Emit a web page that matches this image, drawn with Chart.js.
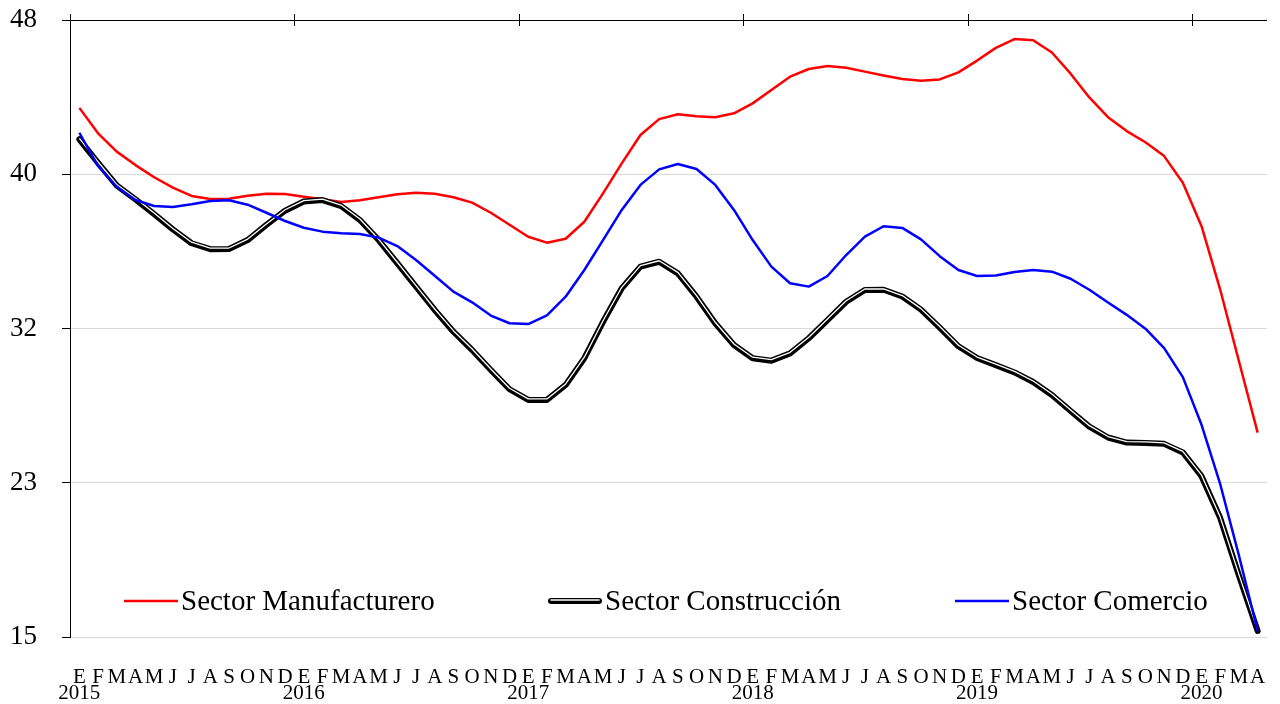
<!DOCTYPE html>
<html>
<head>
<meta charset="utf-8">
<script src="https://cdn.jsdelivr.net/npm/chart.js@4.4.1/dist/chart.umd.min.js"></script>
<style>
  html, body { margin: 0; padding: 0; background: #fff; }
  canvas { display: block; }
</style>
</head>
<body>
<canvas id="chart" width="1280" height="704"></canvas>
<script>
const months = ['E', 'F', 'M', 'A', 'M', 'J', 'J', 'A', 'S', 'O', 'N', 'D'];
const years = ['2015', '2016', '2017', '2018', '2019', '2020'];
const lastMonthCount = 4; // 2020 llega hasta abril

const yTickValues = [15, 23.25, 31.5, 39.75, 48];
const yTickLabels = ['15', '23', '32', '40', '48'];

const manufacturero = [43.3, 41.94, 40.96, 40.24, 39.59, 39.03, 38.59, 38.43, 38.44, 38.60,
  38.71, 38.69, 38.55, 38.41, 38.27, 38.36, 38.52, 38.68, 38.76, 38.71,
  38.52, 38.23, 37.69, 37.05, 36.41, 36.09, 36.30, 37.21, 38.73, 40.33,
  41.85, 42.70, 42.96, 42.85, 42.80, 43.01, 43.54, 44.26, 44.97, 45.38,
  45.54, 45.45, 45.24, 45.03, 44.84, 44.75, 44.82, 45.20, 45.83, 46.51,
  46.98, 46.92, 46.26, 45.13, 43.86, 42.80, 42.06, 41.46, 40.72, 39.30,
  36.97, 33.57, 29.75, 25.93];

const construccion = [41.62, 40.36, 39.15, 38.41, 37.62, 36.80, 36.06, 35.74, 35.75, 36.23,
  37.04, 37.80, 38.29, 38.37, 38.05, 37.30, 36.23, 34.99, 33.74, 32.49,
  31.33, 30.35, 29.28, 28.25, 27.68, 27.68, 28.48, 29.91, 31.86, 33.65,
  34.81, 35.07, 34.45, 33.20, 31.78, 30.62, 29.91, 29.78, 30.17, 30.98,
  31.95, 32.93, 33.56, 33.57, 33.21, 32.51, 31.55, 30.55, 29.92, 29.54,
  29.15, 28.64, 27.94, 27.09, 26.25, 25.67, 25.40, 25.38, 25.33, 24.87,
  23.60, 21.36, 18.28, 15.32];

const comercio = [41.97, 40.19, 39.08, 38.37, 38.05, 38.00, 38.14, 38.32, 38.36, 38.12,
  37.69, 37.25, 36.89, 36.68, 36.59, 36.55, 36.36, 35.91, 35.16, 34.32,
  33.47, 32.90, 32.19, 31.78, 31.74, 32.20, 33.20, 34.63, 36.23, 37.84,
  39.18, 40.01, 40.30, 40.03, 39.18, 37.84, 36.23, 34.81, 33.92, 33.74,
  34.31, 35.43, 36.41, 36.97, 36.88, 36.27, 35.37, 34.63, 34.31, 34.33,
  34.52, 34.63, 34.54, 34.16, 33.57, 32.89, 32.23, 31.49, 30.45, 28.90,
  26.35, 23.17, 19.35, 15.32];

// etiquetas del eje: mes, y el año debajo de enero
const labels = [];
years.forEach((yr, k) => {
  const n = k === years.length - 1 ? lastMonthCount : 12;
  for (let m = 0; m < n; m++) {
    labels.push(m === 0 ? [months[m], yr] : months[m]);
  }
});

const FONT = '"Liberation Serif", "Times New Roman", serif';

// ticks del eje superior (cruzan la línea) y prolongación del eje izquierdo
const axisMarks = {
  id: 'axisMarks',
  afterDraw(chart) {
    const { ctx, chartArea } = chart;
    const x = chart.scales.x;
    ctx.save();
    ctx.strokeStyle = '#000';
    ctx.lineWidth = 1;
    ctx.beginPath();
    ctx.moveTo(chartArea.left + 0.5, chartArea.top - 6);
    ctx.lineTo(chartArea.left + 0.5, chartArea.top);
    for (let i = 12; i < labels.length; i += 12) {
      const px = Math.round((x.getPixelForValue(i - 1) + x.getPixelForValue(i)) / 2) + 0.5;
      ctx.moveTo(px, chartArea.top - 6);
      ctx.lineTo(px, chartArea.top + 6);
    }
    ctx.stroke();
    ctx.restore();
  }
};

// desplaza la línea blanca interior de la serie doble
const shiftLine = {
  id: 'shiftLine',
  beforeDatasetDraw(chart, args) {
    const ds = chart.data.datasets[args.index];
    if (ds.shiftY) {
      chart.ctx.save();
      chart.ctx.translate(0, ds.shiftY);
    }
  },
  afterDatasetDraw(chart, args) {
    if (chart.data.datasets[args.index].shiftY) chart.ctx.restore();
  }
};

// leyenda dentro del área del gráfico
const insideLegend = {
  id: 'insideLegend',
  afterDraw(chart) {
    const ctx = chart.ctx;
    const spots = [124, 548, 955];
    const lineY = 601;
    const items = chart.data.datasets.filter(d => d.label);
    ctx.save();
    ctx.font = '29px ' + FONT;
    ctx.textBaseline = 'alphabetic';
    ctx.fillStyle = '#000';
    items.forEach((ds, k) => {
      const x0 = spots[k];
      const x1 = x0 + 54;
      ctx.lineCap = ds.doubleLine ? 'round' : 'butt';
      ctx.strokeStyle = ds.borderColor;
      ctx.lineWidth = ds.borderWidth;
      ctx.beginPath();
      ctx.moveTo(x0 + (ds.doubleLine ? 3 : 0), lineY);
      ctx.lineTo(x1 - (ds.doubleLine ? 3 : 0), lineY);
      ctx.stroke();
      if (ds.doubleLine) {
        ctx.strokeStyle = '#fff';
        ctx.lineWidth = 1.5;
        ctx.beginPath();
        ctx.moveTo(x0 + 3, lineY - 1);
        ctx.lineTo(x1 - 3, lineY - 1);
        ctx.stroke();
      }
      ctx.fillText(ds.label, x1 + 3, lineY + 9);
    });
    ctx.restore();
  }
};

new Chart(document.getElementById('chart'), {
  type: 'line',
  data: {
    labels: labels,
    datasets: [
      {
        label: 'Sector Manufacturero',
        data: manufacturero,
        borderColor: '#ff0000',
        borderWidth: 2.5,
        order: 3
      },
      {
        label: 'Sector Construcción',
        data: construccion,
        borderColor: '#000000',
        borderWidth: 6,
        doubleLine: true,
        borderCapStyle: 'round',
        order: 2
      },
      {
        label: '',
        data: construccion,
        borderColor: '#ffffff',
        borderWidth: 1.3,
        shiftY: -1,
        order: 1
      },
      {
        label: 'Sector Comercio',
        data: comercio,
        borderColor: '#0000ff',
        borderWidth: 2.5,
        order: 0
      }
    ]
  },
  options: {
    responsive: false,
    animation: false,
    devicePixelRatio: 1,
    layout: { padding: { top: 20, right: 13, bottom: 0, left: 0 } },
    elements: {
      point: { radius: 0, hoverRadius: 0 },
      line: { tension: 0, fill: false, borderJoinStyle: 'round' }
    },
    plugins: {
      legend: { display: false },
      tooltip: { enabled: false }
    },
    scales: {
      x: {
        type: 'category',
        position: 'bottom',
        offset: true,
        border: { display: false },
        grid: { display: false, drawTicks: false },
        ticks: {
          autoSkip: false,
          maxRotation: 0,
          padding: 32,
          color: '#000',
          font: { family: FONT, size: 21, lineHeight: '16px' }
        },
        afterFit(scale) {
          scale.height = 67;
          scale.paddingLeft = 0;
          scale.paddingRight = 0;
        }
      },
      y: {
        min: 15,
        max: 48,
        border: { display: true, color: '#000', width: 1 },
        grid: {
          color: ctx => ctx.index === yTickValues.length - 1 ? '#000' : '#d9d9d9',
          lineWidth: 1,
          tickColor: '#000',
          tickLength: 8
        },
        afterBuildTicks(scale) {
          scale.ticks = yTickValues.map(v => ({ value: v }));
        },
        ticks: {
          padding: 25,
          color: '#000',
          font: { family: FONT, size: 27 },
          callback: (value, index) => yTickLabels[index]
        },
        afterFit(scale) {
          scale.width = 70;
          scale.paddingTop = 0;
          scale.paddingBottom = 0;
        }
      }
    }
  },
  plugins: [axisMarks, shiftLine, insideLegend]
});
</script>
</body>
</html>
